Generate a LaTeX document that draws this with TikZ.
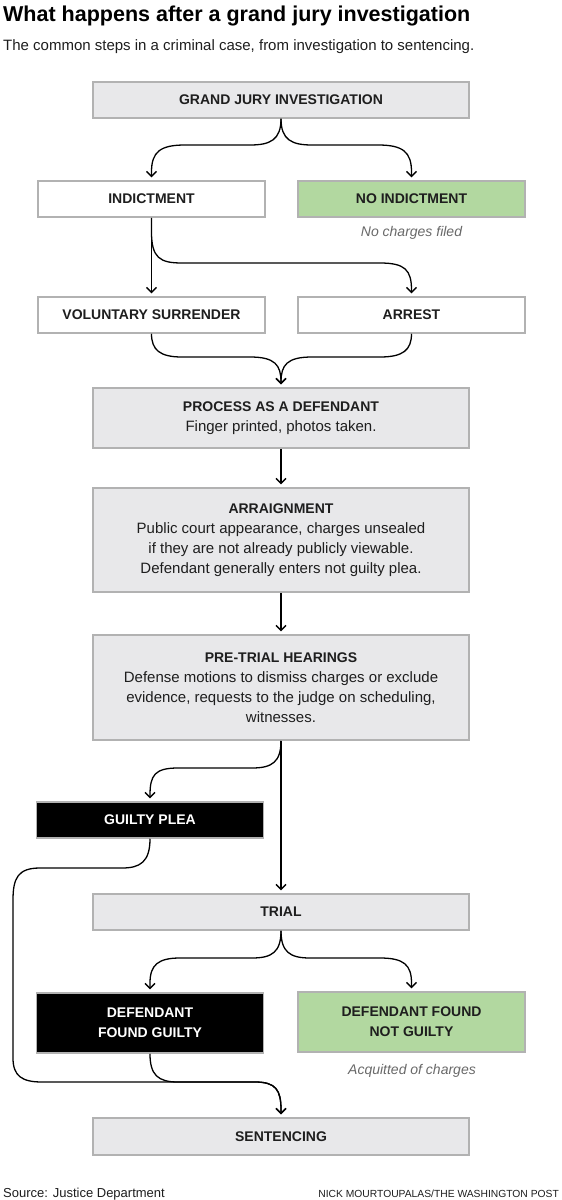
\documentclass[tikz,border=0pt]{standalone}
\usepackage{fontspec}
\setmainfont{Liberation Sans}
\usetikzlibrary{arrows.meta}
\definecolor{boxgray}{RGB}{232,232,234}
\definecolor{edgegray}{RGB}{178,178,178}
\definecolor{boxgreen}{RGB}{178,216,160}
\definecolor{inkdark}{RGB}{30,30,30}
\definecolor{notegray}{RGB}{105,105,105}
\begin{document}
\begin{tikzpicture}[x=1pt,y=-1pt,
  base/.style={draw=edgegray, line width=1.5pt, inner sep=0pt, align=center, text=inkdark,
    font=\fontsize{14}{20}\selectfont\bfseries},
  graybox/.style={base, fill=boxgray},
  whitebox/.style={base, fill=white},
  greenbox/.style={base, fill=boxgreen},
  blackbox/.style={base, fill=black, text=white},
  wide/.style={minimum width=376pt},
  half/.style={minimum width=227pt},
  bodybox/.style={graybox, wide, font=\fontsize{15}{20}\selectfont},
  conn/.style={draw=black, line width=1.3pt, -{Straight Barb[length=5pt,width=10pt]}, shorten >=3pt},
  line/.style={draw=black, line width=1.3pt},
  note/.style={inner sep=0pt, font=\fontsize{14}{17}\selectfont\itshape, text=notegray},
  txt/.style={inner sep=0pt, text=inkdark},
]
\fill[white] (0,0) rectangle (562,1200);
\useasboundingbox (0,0) rectangle (562,1200);

% title
\node[txt, anchor=base west, font=\fontsize{21.5}{24}\selectfont\bfseries, text=black] (title) at (3,21) {What happens after a grand jury investigation};
\node[txt, anchor=base west, font=\fontsize{15}{18}\selectfont] (sub) at (3,50) {The common steps in a criminal case, from investigation to sentencing.};

% boxes
\node[graybox, wide, minimum height=36pt] (gj) at (281,100) {GRAND JURY INVESTIGATION};
\node[whitebox, half, minimum height=36pt] (ind) at (151.5,199) {INDICTMENT};
\node[greenbox, half, minimum height=36pt] (noind) at (411.5,199) {NO INDICTMENT};
\node[note, anchor=base] (nocharges) at (411.5,236) {No charges filed};
\node[whitebox, half, minimum height=36pt] (vs) at (151.5,315) {VOLUNTARY SURRENDER};
\node[whitebox, half, minimum height=36pt] (arrest) at (411.5,315) {ARREST};
\node[bodybox, minimum height=60pt] (proc) at (281,418) {{\fontsize{14}{20}\selectfont\bfseries PROCESS AS A DEFENDANT}\\Finger printed, photos taken.};
\node[bodybox, minimum height=104pt] (arr) at (281,540) {{\fontsize{14}{20}\selectfont\bfseries ARRAIGNMENT}\\Public court appearance, charges unsealed\\if they are not already publicly viewable.\\Defendant generally enters not guilty plea.};
\node[bodybox, minimum height=105pt] (pt) at (281,687.5) {{\fontsize{14}{20}\selectfont\bfseries PRE-TRIAL HEARINGS}\\Defense motions to dismiss charges or exclude\\evidence, requests to the judge on scheduling,\\witnesses.};
\node[blackbox, half, minimum height=36pt] (gp) at (150,820) {GUILTY PLEA};
\node[graybox, wide, minimum height=36pt] (trial) at (281,912) {TRIAL};
\node[blackbox, half, minimum height=60pt] (dfg) at (150,1023) {DEFENDANT\\FOUND GUILTY};
\node[greenbox, half, minimum height=60pt] (dfng) at (411.5,1022) {DEFENDANT FOUND\\NOT GUILTY};
\node[note, anchor=base] (acq) at (412,1074) {Acquitted of charges};
\node[graybox, wide, minimum height=37pt] (sent) at (281,1136.5) {SENTENCING};

% footer
\node[txt, anchor=base west, font=\fontsize{13}{15}\selectfont] (src) at (3,1197) {Source: Justice Department};
\node[txt, anchor=base east, font=\fontsize{10.3}{12}\selectfont] (credit) at (559,1197) {NICK MOURTOUPALAS/THE WASHINGTON POST};

% connectors
\draw[conn] (gj.south) .. controls (281,140) and (270,145) .. (250,145) -- (185,145) .. controls (160,145) and (151.5,152) .. (151.5,172) -- (ind.north);
\draw[conn] (gj.south) .. controls (281,140) and (292,145) .. (312,145) -- (378,145) .. controls (403,145) and (411.5,152) .. (411.5,172) -- (noind.north);

\draw[conn] (ind.south) -- (vs.north);
\draw[conn] (ind.south) -- (151.5,232) .. controls (151.5,258) and (160,263) .. (182,263) -- (380,263) .. controls (405,263) and (411.5,270) .. (411.5,290) -- (arrest.north);

\draw[conn] (vs.south) .. controls (151.5,350) and (160,357) .. (182,357) -- (250,357) .. controls (275,357) and (281,365) .. (281,382) -- (proc.north);
\draw[conn] (arrest.south) .. controls (411.5,350) and (403,357) .. (380,357) -- (312,357) .. controls (287,357) and (281,365) .. (281,382) -- (proc.north);

\draw[conn] (proc.south) -- (arr.north);
\draw[conn] (arr.south) -- (pt.north);
\draw[conn] (pt.south) -- (trial.north);
\draw[conn] (pt.south) .. controls (281,762) and (272,768) .. (252,768) -- (178,768) .. controls (155,768) and (150,775) .. (150,795) -- (gp.north);

\draw[conn] (gp.south) .. controls (150,862) and (140,868) .. (122,868) -- (40,868) .. controls (18,868) and (13,878) .. (13,900) -- (13,1058) .. controls (13,1076) and (22,1082) .. (42,1082) -- (255,1082) .. controls (276,1082) and (281,1090) .. (281,1110) -- (sent.north);
\draw[conn] (dfg.south) .. controls (150,1075) and (158,1082) .. (178,1082) -- (255,1082) .. controls (276,1082) and (281,1090) .. (281,1110) -- (sent.north);

\draw[conn] (trial.south) .. controls (281,952) and (272,958) .. (252,958) -- (180,958) .. controls (158,958) and (150,965) .. (150,983) -- (dfg.north);
\draw[conn] (trial.south) .. controls (281,952) and (290,958) .. (310,958) -- (380,958) .. controls (404,958) and (411.5,965) .. (411.5,983) -- (dfng.north);
\end{tikzpicture}
\end{document}
